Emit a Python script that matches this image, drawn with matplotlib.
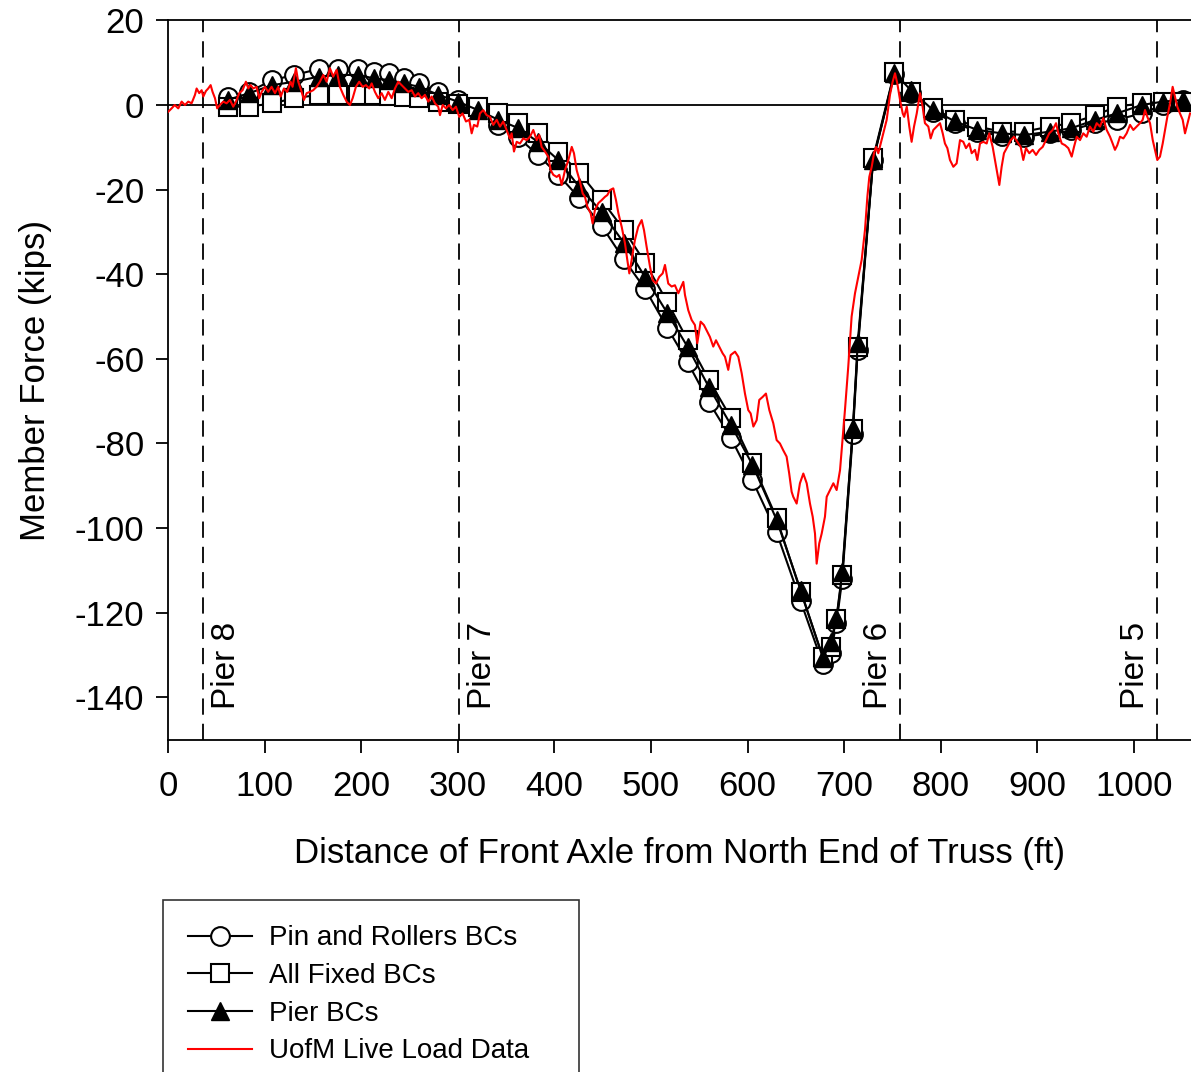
import matplotlib
matplotlib.use("Agg")
import matplotlib.pyplot as plt
import numpy as np

# truck front axle positions (ft) where the FE models were evaluated
pos = [62, 84, 108, 131, 156, 176, 197, 213, 229, 244, 260, 280, 300, 321, 342,
       362, 383, 404, 426, 449, 472, 494, 517, 538, 560, 583, 605, 630, 655, 678,
       686, 692, 698, 709, 714, 730, 752, 769, 792, 815, 838, 863, 886, 913, 935,
       960, 982, 1008, 1030, 1051]

pin_rollers = [2.0, 3.1, 5.9, 7.1, 8.5, 8.6, 8.6, 7.9, 7.5, 6.3, 5.1, 3.1, 1.2, -0.8, -4.7,
               -7.6, -11.8, -16.5, -22.0, -28.6, -36.5, -43.5, -52.7, -60.8, -70.2, -78.8, -88.7, -101.0, -117.3, -132.2,
               -129.5, -122.5, -112.0, -77.7, -58.0, -13.0, 7.3, 2.8, -1.6, -4.3, -6.3, -7.3, -7.5, -6.7, -5.9,
               -4.3, -3.5, -2.0, 0.0, 1.2]

all_fixed = [-0.4, -0.4, 0.4, 1.6, 2.4, 2.4, 2.4, 2.4, 2.2, 2.0, 1.6, 0.8, 0.2, -0.5, -2.0,
             -4.3, -6.6, -11.0, -16.0, -22.5, -29.5, -37.3, -46.6, -55.6, -65.0, -74.0, -84.6, -97.6, -115.0, -130.5,
             -128.0, -121.5, -111.0, -76.5, -57.3, -12.5, 7.8, 3.1, -0.8, -3.5, -5.1, -6.3, -6.3, -5.1, -4.3,
             -2.4, -0.4, 0.4, 0.8, 0.8]

pier_bcs = [1.2, 2.8, 4.7, 5.5, 6.7, 7.1, 7.1, 6.3, 5.9, 5.1, 4.3, 2.4, 0.8, -1.2, -3.5,
            -5.4, -8.7, -13.0, -19.4, -25.3, -32.6, -40.7, -49.2, -57.2, -66.7, -75.7, -85.0, -98.0, -114.7, -130.7,
            -127.0, -121.3, -110.4, -76.4, -56.3, -13.0, 7.6, 3.5, -1.2, -3.9, -5.9, -6.7, -7.1, -6.3, -5.5,
            -3.5, -2.0, 0.0, 0.8, 1.2]

uofm_x = [0.3, 3.8, 7, 10.7, 14.2, 17.6, 21, 24.5, 28, 29.7, 32.4, 34.9, 36.6, 39.3, 41.7, 44.2, 46.2, 48.7,
          51, 53.8, 57.3, 60.7, 64.2, 67.6, 70.4, 73.8, 77.3, 80.7, 83.2, 85.6, 88.3, 91.8, 94.5, 97, 100.4,
          103.8, 107.3, 110.8, 114.2, 116.7, 120.1, 123.5, 127, 129, 132.5, 134.9, 138.4, 140.8, 143.6, 147,
          150.4, 153.9, 157.3, 160.8, 164.3, 167.7, 171.1, 174.6, 178, 181.5, 185, 188.4, 191.2, 194.6, 198,
          201.5, 205, 208.4, 210.9, 214.3, 217.7, 221.2, 224.6, 228.1, 231.6, 235, 238.4, 241.9, 245.3, 248.8,
          252.3, 255.7, 259.1, 262.6, 266, 269.5, 273, 276.4, 279.8, 281.6, 284.4, 287.8, 291.2, 294.7, 298.1,
          301.6, 305, 308.5, 311.9, 314.4, 316.8, 320.2, 323, 326.4, 329.9, 333.3, 336.8, 340.3, 343.7, 347.1,
          350.6, 354, 355.8, 358.2, 361, 364.4, 367.8, 371.3, 374.7, 378.2, 381.7, 384.4, 386.8, 390.3, 393.7,
          396.2, 398.9, 402.4, 405.1, 407.6, 411, 414.5, 418, 420.3, 423.1, 426.5, 429.3, 431.7, 434.1, 437.6,
          439.6, 442, 445.5, 448.9, 452.4, 454.8, 457.6, 461, 463.8, 466.3, 469.7, 473.1, 475.5, 477.6, 480,
          483.4, 486.8, 490.4, 492.8, 495.5, 499, 501.8, 505.2, 508.6, 512.1, 514.5, 517.9, 521.4, 524.8, 528.3,
          533.5, 535.2, 538.6, 542.1, 545.5, 547.9, 551.4, 554.8, 558.3, 561, 564.5, 567.3, 570.7, 574.2, 576.6,
          580, 582.5, 587, 590.4, 593.9, 597.3, 600.7, 603.2, 606, 609.4, 612.1, 615.6, 619, 622.5, 626.6,
          630.1, 633.5, 636.9, 640.4, 643.1, 645.6, 647.3, 650.8, 654.2, 657.7, 661.2, 664.6, 667.4, 669.8,
          671.5, 674.2, 676.7, 680.1, 681.9, 685.3, 688.8, 692.2, 695.7, 700.8, 704.2, 707.7, 711.2, 714.6,
          718.1, 721.5, 724, 726, 728.5, 730.9, 733, 735.3, 737.8, 740.5, 744, 747.4, 750.2, 752.6, 755, 757.8,
          760.6, 762.1, 764.8, 767.4, 769.8, 772.3, 775.1, 778.5, 781.2, 783.6, 787.1, 789.5, 792.3, 795.8,
          799.2, 802, 804.3, 806.8, 809.5, 813, 816.4, 819.9, 823.3, 826.1, 829.5, 832, 835.4, 837.8, 840.6,
          844, 847.5, 850.2, 853.7, 856.1, 858.5, 860.6, 863, 865.4, 868.9, 872.4, 875.8, 879.2, 882.7, 885.4,
          888.2, 891.6, 895.1, 898.6, 902, 905.5, 908.9, 912.3, 915.8, 919.3, 921.7, 925.2, 928.6, 932, 935.5,
          937.9, 940.7, 944.1, 947.5, 951, 954.4, 957.9, 961.4, 964.8, 968.2, 971.7, 975.2, 977.9, 980.3,
          982.7, 985.5, 989, 992.4, 995.9, 999.3, 1002.8, 1006.2, 1009, 1011.4, 1013.8, 1016.6, 1019.4,
          1021.7, 1024.1, 1026.9, 1029.7, 1032.1, 1034.5, 1037.3, 1040, 1042.4, 1044.8, 1047.6, 1050.4,
          1052.8, 1054.6, 1058]
uofm_y = [-1.6, -0.8, 0, -0.8, 0.8, 0, 0.8, 0.4, 2.4, 3.9, 2.8, 3.5, 2.0, 3.3, 3.9, 4.7, 3.1, 1.6,
          -0.8, 0, 0.8, 0.4, 1.2, -0.4, 0.8, 2.8, 3.5, 5.5, 3.9, 4.7, 3.9, 4.3, 1.6, 3.1, 4.3,
          3.1, 4.3, 2.8, 4.3, 2.0, 3.9, 3.1, 5.5, 4.3, 8.7, 5.5, 3.1, 1.2, 2.8, 3.1,
          3.5, 4.3, 5.5, 7.1, 5.5, 8.7, 6.7, 8.3, 4.3, 2.4, 0.8, 0, 1.6, 4.3, 5.5,
          4.3, 4.7, 3.9, 5.1, 3.1, 1.6, 2.8, 1.2, 3.1, 1.6, 3.9, 5.5, 4.7, 3.9, 3.1,
          3.5, 2.0, 2.8, 1.6, 2.4, 0.8, 2.0, 0.4, -0.4, -2.4, 0, -0.8, 0, -1.2, -0.4,
          -2.8, -2.0, -3.9, -3.5, -6.7, -4.7, -5.1, -2.0, -1.2, -2.4, -2.8, -4.7, -3.5, -5.1, -3.9,
          -5.9, -7.9, -6.7, -11, -8.7, -9.1, -7.9, -8.3, -7.5, -5.9, -8.3, -7.1, -9.9, -11, -12.2,
          -15.4, -16.5, -17, -16.5, -18.9, -15.4, -13, -9.9, -11.4, -15.4, -18.1, -20.9, -21.7, -24, -25.6,
          -28, -24.8, -23.2, -22.5, -21.7, -21.3, -20.1, -19.7, -22.5, -25.6, -28.8, -32.7, -36.6, -39.8, -36.6,
          -31.9, -28.8, -27.2, -29.6, -33.5, -38.2, -41.4, -42.2, -40.6, -39.8, -37.8, -42.2, -42.9, -42.6, -44.5,
          -41.8, -44.9, -48.5, -50.8, -52, -56.3, -51.2, -52, -53.6, -54.8, -57.1, -55.6, -57.1, -58.7, -59.5,
          -62.6, -59.1, -58.3, -59.5, -63.4, -68.2, -72.1, -72.9, -76, -74.5, -69.7, -69, -68.2, -72.1, -75.2,
          -79.2, -80, -81.6, -83.1, -87.1, -91.4, -92.6, -94.2, -89.4, -87.1, -89.4, -94.2, -97.3, -101.3,
          -108.4, -103.6, -101.3, -97.3, -92.6, -91, -89.4, -91, -86.3, -72.1, -61.9, -50, -44.5, -40.6,
          -36.6, -29.6, -21.7, -17, -14.6, -11.4, -9.9, -11.4, -9.1, -6.7, -3.5, 2.4, 5.5, 7.5, 5.1, 1.2,
          -2, -2.8, -0.4, -5.1, -8.7, -5.1, -2, 2.8, -0.4, -4.3, -5.1, -7.9, -5.9, -5.1,
          -4.3, -6.7, -9.1, -10.2, -13, -14.6, -13.8, -8.3, -8.7, -10.2, -9.1, -11.4, -10.6, -13, -9.1,
          -8.7, -9.1, -6.7, -9.9, -13, -16.1, -18.9, -14.6, -11.4, -9.9, -8.3, -7.5, -8.7, -9.9, -13,
          -10.2, -11.4, -10.6, -11.8, -10.6, -9.9, -8.3, -6.7, -5.9, -4.3, -6.7, -9.1, -9.5, -10.2, -12.2,
          -9.9, -7.5, -8.3, -6.7, -7.5, -5.1, -6.3, -4.3, -5.1, -3.1, -5.9, -7.5, -9.1, -10.6,
          -9.5, -7.5, -7.9, -6.7, -4.7, -5.9, -5.1, -4.3, -3.5, -1.2, -2.8, -4.3, -8.3,
          -10.6, -13, -12.2, -9.1, -5.9, -2.8, 0.4, 4.3, 2.0, -0.4, -2, -3.5,
          -6.7, -5.1, -2]

piers = [36, 301, 758, 1024]
pier_names = ["Pier 8", "Pier 7", "Pier 6", "Pier 5"]
pier_side = ["right", "right", "left", "left"]  # which side of the line the label sits on


def main():
    plt.rcParams["font.family"] = ["Liberation Sans", "DejaVu Sans"]
    plt.rcParams["axes.unicode_minus"] = False

    fig = plt.figure(figsize=(11.91, 10.72), dpi=100)
    ax = fig.add_axes([0.141, 0.310, 0.859, 0.671])

    ax.axhline(0, color="black", linewidth=1.3, zorder=1)
    for p, name, side in zip(piers, pier_names, pier_side):
        ax.axvline(p, color="black", linewidth=1.3, linestyle=(0, (9, 5)), zorder=1)
        if side == "right":
            ax.text(p + 9, -142.8, name, rotation=90, ha="left", va="bottom", fontsize=24)
        else:
            ax.text(p - 6, -142.8, name, rotation=90, ha="right", va="bottom", fontsize=24)

    ax.plot(pos, pin_rollers, "-", color="black", linewidth=1.5, marker="o", markersize=13.5,
            markerfacecolor="white", markeredgecolor="black", markeredgewidth=1.5,
            label="Pin and Rollers BCs", zorder=3)
    ax.plot(pos, all_fixed, "-", color="black", linewidth=1.5, marker="s", markersize=12.5,
            markerfacecolor="white", markeredgecolor="black", markeredgewidth=1.5,
            label="All Fixed BCs", zorder=4)
    ax.plot(pos, pier_bcs, "-", color="black", linewidth=1.5, marker="^", markersize=13.5,
            markerfacecolor="black", markeredgecolor="black",
            label="Pier BCs", zorder=5)
    ax.plot(uofm_x, uofm_y, "-", color="#ff0000", linewidth=1.5, label="UofM Live Load Data", zorder=6)

    ax.set_xlim(0, 1059)
    ax.set_ylim(-150, 20)
    ax.set_xticks(np.arange(0, 1001, 100))
    ax.set_yticks(np.arange(-140, 21, 20))
    ax.tick_params(direction="out", length=9, width=1.3, labelsize=25)
    ax.tick_params(axis="x", pad=13)
    ax.tick_params(axis="y", pad=8)
    ax.spines["right"].set_visible(False)
    for s in ["left", "bottom", "top"]:
        ax.spines[s].set_linewidth(1.3)

    ax.set_xlabel("Distance of Front Axle from North End of Truss (ft)", fontsize=25, labelpad=24)
    ax.set_ylabel("Member Force (kips)", fontsize=25, labelpad=16)

    leg = fig.legend(loc="upper left", bbox_to_anchor=(0.137, -0.05, 0.349, 0.210), mode="expand",
                     fontsize=20, frameon=True, fancybox=False, edgecolor="black",
                     handlelength=2.3, handletextpad=0.6, borderpad=0.9, labelspacing=0.42,
                     borderaxespad=0)
    leg.get_frame().set_linewidth(1.2)

    fig.savefig("out.png", dpi=100)


if __name__ == "__main__":
    main()
